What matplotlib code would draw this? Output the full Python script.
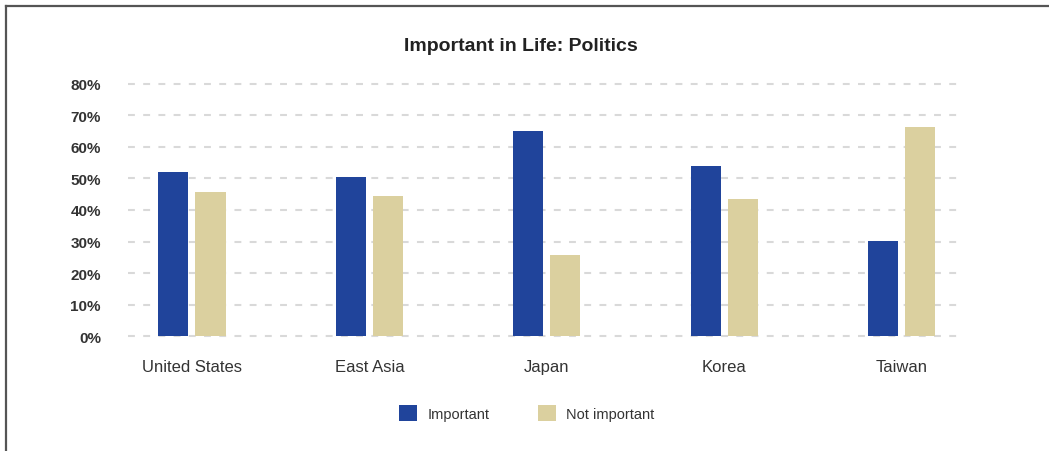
import numpy as np
import matplotlib.pyplot as plt
from matplotlib.lines import Line2D
from matplotlib.patches import Patch

plt.rcParams['font.family'] = ['Liberation Sans', 'DejaVu Sans']

# data
regions = ['United States', 'East Asia', 'Japan', 'Korea', 'Taiwan']
important = [52.0, 50.4, 65.0, 53.9, 30.1]
not_important = [45.7, 44.4, 25.7, 43.4, 66.2]
y_ticks = [0, 10, 20, 30, 40, 50, 60, 70, 80]
y_tick_labels = [f'{v}%' for v in y_ticks]

blue = '#20449b'
tan = '#dbd09f'
text_col = '#333333'

fig = plt.figure(figsize=(10.49, 4.52), dpi=100)
ax = fig.add_axes([0.122, 0.2538, 0.790, 0.5588])

x = np.arange(len(regions))
w = 0.17
off = 0.105
ax.bar(x - off, important, width=w, color=blue, zorder=3)
ax.bar(x + off, not_important, width=w, color=tan, zorder=3)

ax.set_xlim(-0.36, 4.31)
ax.set_ylim(0, 80)
ax.set_yticks(y_ticks)
ax.set_yticklabels(y_tick_labels)
ax.set_xticks(x)
ax.set_xticklabels(regions)
ax.tick_params(axis='both', length=0, colors=text_col)
ax.tick_params(axis='y', labelsize=11, pad=19.5)
ax.tick_params(axis='x', labelsize=12, pad=16)
for lab in ax.get_yticklabels():
    lab.set_fontweight('bold')

for v in y_ticks:
    ax.axhline(v, color='#d9d9d9', lw=1.5, ls=(0, (3.3, 4.0)), zorder=1, clip_on=False)
for s in ax.spines.values():
    s.set_visible(False)

fig.text(0.497, 0.898, 'Important in Life: Politics', ha='center', va='center',
         fontsize=14, fontweight='bold', color='#222222')

handles = [Patch(facecolor=blue, label='Important'),
           Patch(facecolor=tan, label='Not important')]
leg = fig.legend(handles=handles, loc='center', bbox_to_anchor=(0.502, 0.084), ncol=2,
                 frameon=False, fontsize=10.5, handlelength=1.25, handleheight=1.25,
                 handletextpad=0.7, columnspacing=3.3)
for t in leg.get_texts():
    t.set_color(text_col)

# frame lines at top and left of the panel
fig.add_artist(Line2D([5.5 / 1049, 1], [1 - 6.5 / 452, 1 - 6.5 / 452], color='#555555', lw=1.6))
fig.add_artist(Line2D([5.5 / 1049, 5.5 / 1049], [0, 1 - 6.5 / 452], color='#555555', lw=1.6))

fig.savefig('out.png', dpi=100, facecolor='white')
